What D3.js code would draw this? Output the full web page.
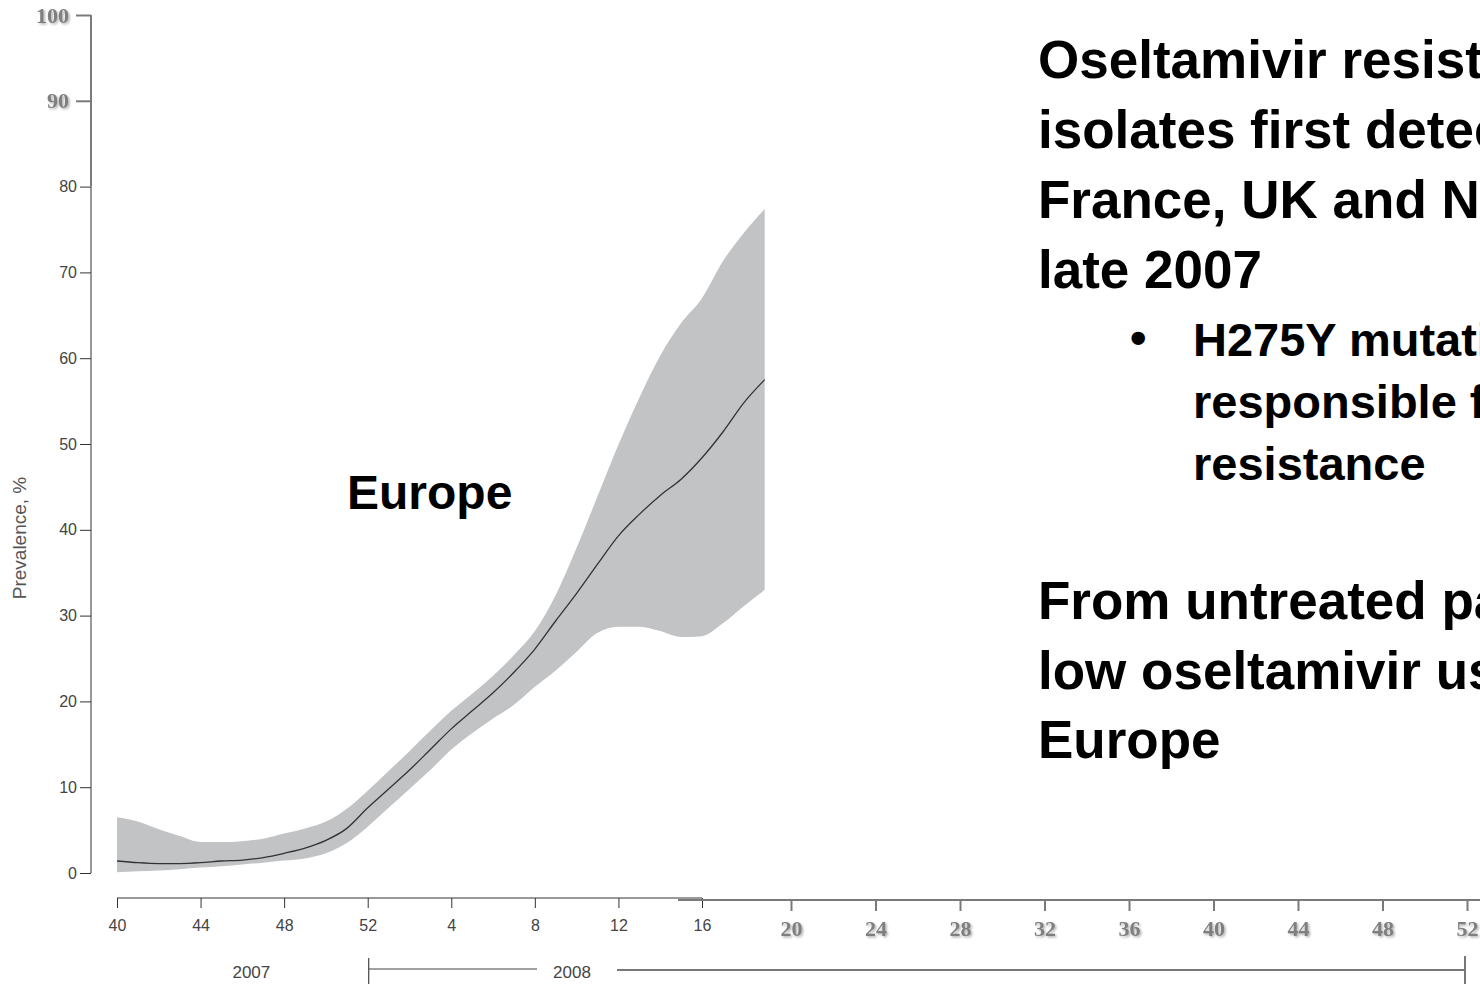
<!DOCTYPE html>
<html>
<head>
<meta charset="utf-8">
<script src="https://cdn.jsdelivr.net/npm/d3@7"></script>
<style>
  html, body { margin: 0; padding: 0; background: #fff; overflow: hidden; }
  svg { display: block; }
</style>
</head>
<body>
<svg id="chart" width="1480" height="984"></svg>
<script>
// Weekly prevalence of oseltamivir-resistant A(H1N1), Europe, week 40/2007 – week 19/2008
const weekLabels = [40, 41, 42, 43, 44, 45, 46, 47, 48, 49, 50, 51, 52,
                    1, 2, 3, 4, 5, 6, 7, 8, 9, 10, 11, 12, 13, 14, 15, 16, 17, 18, 19];
const median = [1.4, 1.2, 1.1, 1.1, 1.2, 1.4, 1.5, 1.8, 2.3, 2.9, 3.8, 5.2, 7.6,
                9.8, 12.0, 14.4, 16.8, 18.9, 21.0, 23.4, 26.1, 29.4, 32.6, 36.0,
                39.3, 41.8, 44.0, 45.9, 48.4, 51.4, 54.8, 57.5];
const lower  = [0.1, 0.2, 0.3, 0.45, 0.65, 0.8, 1.0, 1.2, 1.45, 1.7, 2.3, 3.5, 5.4,
                7.6, 9.8, 12.0, 14.4, 16.3, 18.0, 19.6, 21.7, 23.6, 25.8, 28.0,
                28.7, 28.7, 28.2, 27.5, 27.6, 29.1, 31.1, 33.0];
const upper  = [6.5, 6.0, 5.1, 4.3, 3.6, 3.6, 3.7, 4.0, 4.6, 5.2, 6.0, 7.5, 9.6,
                11.9, 14.2, 16.6, 18.9, 20.9, 23.0, 25.4, 28.2, 32.4, 37.9, 43.9,
                49.9, 55.4, 60.3, 64.1, 67.0, 71.3, 74.6, 77.4];

// Axis tick labels
const yTicksMain = [0, 10, 20, 30, 40, 50, 60, 70, 80];
const yTicksExt = [90, 100];
const xTickIdxMain = [0, 4, 8, 12, 16, 20, 24, 28];
const xTickLabelsMain = ["40", "44", "48", "52", "4", "8", "12", "16"];
const xTickIdxExt = [32, 36, 40, 44, 48, 52, 56, 60, 64];
const xTickLabelsExt = ["20", "24", "28", "32", "36", "40", "44", "48", "52"];
const yearLabels = ["2007", "2008"];

// Slide text
const regionLabel = "Europe";
const headLines = ["Oseltamivir resistant A(H1N1)", "isolates first detected in",
                   "France, UK and Norway in", "late 2007"];
const bulletLines = ["H275Y mutation", "responsible for", "resistance"];
const footLines = ["From untreated patients in", "low oseltamivir use in", "Europe"];

const svg = d3.select("#chart");
const sans = "Arial, 'Liberation Sans', Helvetica, sans-serif";
const serif = "'Times New Roman', 'Liberation Serif', serif";

const defs = svg.append("defs");
const shadow = defs.append("filter").attr("id", "soft-shadow")
  .attr("x", "-30%").attr("y", "-30%").attr("width", "160%").attr("height", "160%");
shadow.append("feDropShadow").attr("dx", 1.5).attr("dy", 1.5)
  .attr("stdDeviation", 1).attr("flood-color", "#9a9a9a").attr("flood-opacity", 0.8);

// Scales: plotted season and the extended rest of 2008
const x = d3.scaleLinear().domain([0, 28]).range([117, 702]);
const xExt = d3.scaleLinear().domain([32, 64]).range([791, 1467]);
const y = d3.scaleLinear().domain([0, 100]).range([873, 15]);

const rows = weekLabels.map((w, i) => ({ i, w, m: median[i], lo: lower[i], hi: upper[i] }));

// Uncertainty band
svg.append("path")
  .datum(rows)
  .attr("fill", "#c2c3c5")
  .attr("d", d3.area()
    .x(d => x(d.i))
    .y0(d => y(d.lo))
    .y1(d => y(d.hi))
    .curve(d3.curveMonotoneX));

// Median prevalence line
svg.append("path")
  .datum(rows)
  .attr("fill", "none")
  .attr("stroke", "#333")
  .attr("stroke-width", 1.3)
  .attr("d", d3.line()
    .x(d => x(d.i))
    .y(d => y(d.m))
    .curve(d3.curveMonotoneX));

// Y axis (0–80)
const yAxis = svg.append("g")
  .attr("transform", "translate(91,0)")
  .call(d3.axisLeft(y).tickValues(yTicksMain).tickSize(11).tickPadding(3).tickSizeOuter(0));
yAxis.select(".domain").attr("stroke", "#333").attr("d", `M0,${y(0)}V${y(80)}`);
yAxis.selectAll(".tick line").attr("stroke", "#333");
yAxis.selectAll(".tick text")
  .attr("font-family", sans).attr("font-size", 16).attr("fill", "#444");

// Y axis extension (80–100)
const yAxisExt = svg.append("g")
  .attr("transform", "translate(91,0)")
  .call(d3.axisLeft(y).tickValues(yTicksExt).tickSize(15).tickPadding(7).tickSizeOuter(0));
yAxisExt.select(".domain").attr("stroke", "#7a7a7a").attr("stroke-width", 2)
  .attr("d", `M0,${y(80)}V${y(100)}`);
yAxisExt.selectAll(".tick line").attr("stroke", "#7a7a7a").attr("stroke-width", 2);
yAxisExt.selectAll(".tick text")
  .attr("font-family", serif).attr("font-weight", "bold").attr("font-size", 22)
  .attr("fill", "#7f7f7f").attr("filter", "url(#soft-shadow)");

// Y axis title
svg.append("text")
  .attr("transform", `translate(26,538) rotate(-90)`)
  .attr("text-anchor", "middle")
  .attr("font-family", sans).attr("font-size", 19).attr("fill", "#555")
  .text("Prevalence, %");

// X axis for plotted weeks
const xAxis = svg.append("g")
  .attr("transform", "translate(0,898)")
  .call(d3.axisBottom(x).tickValues(xTickIdxMain)
    .tickFormat((d, k) => xTickLabelsMain[k]).tickSize(10).tickPadding(12).tickSizeOuter(0));
xAxis.select(".domain").attr("stroke", "#333").attr("d", `M${x(0)},0H${x(28)}`);
xAxis.selectAll(".tick line").attr("stroke", "#333");
xAxis.selectAll(".tick text")
  .attr("font-family", sans).attr("font-size", 16).attr("fill", "#444");

// X axis extension for the rest of 2008
const xAxisExt = svg.append("g")
  .attr("transform", "translate(0,900)")
  .call(d3.axisBottom(xExt).tickValues(xTickIdxExt)
    .tickFormat((d, k) => xTickLabelsExt[k]).tickSize(11).tickPadding(9).tickSizeOuter(0));
xAxisExt.select(".domain").attr("stroke", "#7a7a7a").attr("stroke-width", 2)
  .attr("d", `M678,0H1480`);
xAxisExt.selectAll(".tick line").attr("stroke", "#7a7a7a").attr("stroke-width", 2);
xAxisExt.selectAll(".tick text")
  .attr("font-family", serif).attr("font-weight", "bold").attr("font-size", 22)
  .attr("fill", "#7f7f7f").attr("filter", "url(#soft-shadow)");

// Year brackets
const yearY = 972;
svg.append("text")
  .attr("x", (x(0) + x(12)) / 2 + 9).attr("y", yearY + 6)
  .attr("text-anchor", "middle")
  .attr("font-family", sans).attr("font-size", 17).attr("fill", "#444")
  .text(yearLabels[0]);
const y2008x = 572;
svg.append("text")
  .attr("x", y2008x).attr("y", yearY + 6)
  .attr("text-anchor", "middle")
  .attr("font-family", sans).attr("font-size", 17).attr("fill", "#444")
  .text(yearLabels[1]);
const bracket = svg.append("g").attr("fill", "none");
bracket.append("path").attr("stroke", "#444").attr("stroke-width", 1.2)
  .attr("d", `M${x(12) + 1},958V984M${x(12) + 1},969H${y2008x - 35}`);
bracket.append("path").attr("stroke", "#777").attr("stroke-width", 2)
  .attr("d", `M${y2008x + 45},970H${xExt(64) - 2}M${xExt(64) - 2},956V984`);

// Region label
svg.append("text")
  .attr("x", 347).attr("y", 509)
  .attr("font-family", sans).attr("font-weight", "bold").attr("font-size", 48)
  .attr("fill", "#000")
  .text(regionLabel);

// Slide text block
const textG = svg.append("g")
  .attr("font-family", sans).attr("font-weight", "bold").attr("fill", "#000");
headLines.forEach((t, k) => {
  textG.append("text").attr("x", 1038).attr("y", 78 + k * 70)
    .attr("font-size", 53).text(t);
});
textG.append("text").attr("x", 1130).attr("y", 354)
  .attr("font-size", 47).text("•");
bulletLines.forEach((t, k) => {
  textG.append("text").attr("x", 1193).attr("y", 356 + k * 62)
    .attr("font-size", 47).text(t);
});
footLines.forEach((t, k) => {
  textG.append("text").attr("x", 1038).attr("y", 619 + k * 69.5)
    .attr("font-size", 53).text(t);
});
</script>
</body>
</html>
